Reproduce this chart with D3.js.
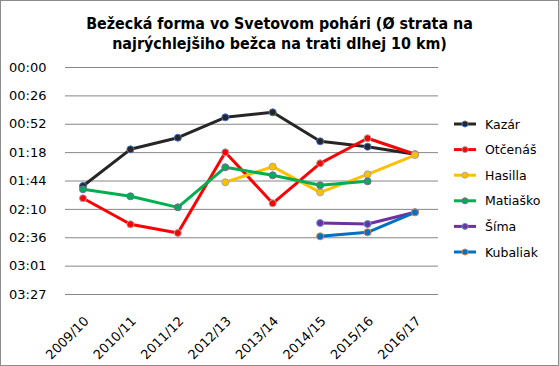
<!DOCTYPE html>
<html><head><meta charset="utf-8">
<script src="https://cdn.jsdelivr.net/npm/d3@7"></script>
<style>
html,body{margin:0;padding:0;background:#fff;}
svg{display:block;font-family:"DejaVu Sans",sans-serif;}
</style></head><body>
<svg id="c" width="559" height="366"></svg>
<script>
const categories = ["2009/10","2010/11","2011/12","2012/13","2013/14","2014/15","2015/16","2016/17"];
// values in seconds (null = no data)
const kazar    = [108.7, 75.2, 64.6, 46.0, 41.4, 67.9, 72.8, 79.7];
const otcenas  = [119.9, 143.7, 151.6, 77.9, 124.5, 88.0, 65.1, 79.7];
const hasilla  = [null, null, null, 105.3, 91.0, 114.5, 98.0, 80.4];
const matiasko = [111.7, 118.1, 128.2, 91.6, 98.9, 108.1, 104.4, null];
const sima     = [null, null, null, null, null, 142.5, 143.4, 132.7];
const kubaliak = [null, null, null, null, null, 154.7, 151.0, 132.7];
const seriesNames = ["Kazár","Otčenáš","Hasilla","Matiaško","Šíma","Kubaliak"];
const seriesColors = ["#262626","#FF0000","#FFC000","#00B050","#7030A0","#0070C0"];
const markerBorders = ["#4472C4","#A5A5A5","#A5A5A5","#7F60A8","#5B9BD5","#ED7D31"];
const yTickStep = 25.92; // seconds (0.0003 day)
const yTicks = d3.range(0, 9).map(i => i * yTickStep);
const titleLines = ["Bežecká forma vo Svetovom pohári (Ø strata na", "najrýchlejšiho bežca na trati dlhej 10 km)"];

const allSeries = [kazar, otcenas, hasilla, matiasko, sima, kubaliak];
const svg = d3.select("#c");
svg.append("rect").attr("x",0.5).attr("y",0.5).attr("width",558).attr("height",365)
  .attr("fill","#fff").attr("stroke","#8c8c8c").attr("stroke-width",1);

const x = d3.scalePoint().domain(categories).range([83, 415]);
const y = d3.scaleLinear().domain([0, yTicks[yTicks.length-1]]).range([67, 294]);
const gridX0 = 65, gridX1 = 438;

const fmt = s => { const t = Math.round(s); const m = Math.floor(t/60), ss = t%60; return String(m).padStart(2,"0")+":"+String(ss).padStart(2,"0"); };

// title
svg.append("text").attr("x",279.5).attr("y",29).attr("text-anchor","middle")
  .attr("font-size",15.9).attr("font-weight","bold").attr("fill","#000")
  .attr("font-family",'"DejaVu Sans Condensed","DejaVu Sans",sans-serif')
  .selectAll("tspan").data(titleLines).join("tspan")
  .attr("x",279.5).attr("dy",(d,i)=>i===0?0:20).text(d=>d);

// grid + y labels
const yAxis = d3.axisLeft(y).tickValues(yTicks).tickFormat(fmt).tickSize(-(gridX1-gridX0)).tickPadding(18.5);
const ga = svg.append("g").attr("transform",`translate(${gridX0},0)`).call(yAxis);
ga.select(".domain").remove();
ga.selectAll(".tick line").attr("stroke","#868686").attr("stroke-width",1);
ga.selectAll(".tick text").attr("font-size",13).attr("fill","#000").attr("font-family",'"DejaVu Sans",sans-serif');

// x labels
const xAxis = d3.axisBottom(x).tickSize(0).tickPadding(0);
const gx = svg.append("g").attr("transform","translate(0,300)").call(xAxis);
gx.select(".domain").remove();
gx.selectAll(".tick text").attr("font-size",13).attr("fill","#000")
  .attr("text-anchor","end").attr("dy",0).attr("y",0)
  .attr("transform","translate(6,22) rotate(-45)")
  .attr("font-family",'"DejaVu Sans",sans-serif');

// lines
const line = d3.line().defined(d => d.v !== null).x(d => x(d.c)).y(d => y(d.v));
allSeries.forEach((vals, i) => {
  const data = vals.map((v, j) => ({c: categories[j], v}));
  svg.append("path").datum(data).attr("d", line).attr("fill","none")
    .attr("stroke", seriesColors[i]).attr("stroke-width",3).attr("stroke-linejoin","round").attr("stroke-linecap","round");
  svg.append("g").selectAll("circle").data(data.filter(d => d.v !== null)).join("circle")
    .attr("cx", d => x(d.c)).attr("cy", d => y(d.v)).attr("r",3.5)
    .attr("fill", seriesColors[i]).attr("stroke", markerBorders[i]).attr("stroke-width",1);
});

// legend
const lg = svg.append("g");
seriesNames.forEach((n, i) => {
  const ly = 124 + i * 25.6;
  lg.append("line").attr("x1",454).attr("x2",476).attr("y1",ly).attr("y2",ly)
    .attr("stroke",seriesColors[i]).attr("stroke-width",3);
  lg.append("circle").attr("cx",465).attr("cy",ly).attr("r",3)
    .attr("fill",seriesColors[i]).attr("stroke",markerBorders[i]).attr("stroke-width",1);
  lg.append("text").attr("x",485).attr("y",ly+4.5).attr("font-size",12.5).attr("fill","#000").text(n);
});
</script>
</body></html>
